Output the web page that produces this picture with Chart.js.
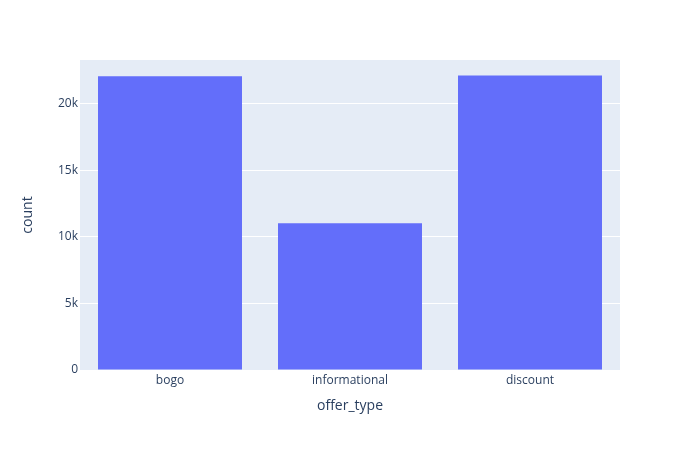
<!DOCTYPE html>
<html>
<head>
<meta charset="utf-8">
<script src="https://cdn.jsdelivr.net/npm/chart.js@4/dist/chart.umd.min.js"></script>
<style>
html,body{margin:0;padding:0;background:#fff;}
#c{display:block;}
</style>
</head>
<body>
<canvas id="c" width="700" height="450"></canvas>
<script>
const categories = ["bogo", "informational", "discount"];
const counts = [22050, 11020, 22100];
const yTickValues = [0, 5000, 10000, 15000, 20000];
const xTitle = "offer_type";
const yTitle = "count";

const plotBg = {
  id: 'plotBg',
  beforeDraw(chart) {
    const {ctx, chartArea: a} = chart;
    ctx.save();
    ctx.fillStyle = '#E5ECF6';
    ctx.fillRect(a.left, a.top, a.right - a.left, a.bottom - a.top);
    ctx.restore();
  }
};

const fontFam = '"Open Sans", verdana, arial, sans-serif';
new Chart(document.getElementById('c'), {
  type: 'bar',
  data: {
    labels: categories,
    datasets: [{
      data: counts,
      backgroundColor: '#636EFA',
      borderWidth: 0,
      barPercentage: 0.8,
      categoryPercentage: 1.0
    }]
  },
  options: {
    responsive: false,
    animation: false,
    layout: {padding: {left: 0, right: 80, top: 60, bottom: 0}},
    plugins: {legend: {display: false}, tooltip: {enabled: false}},
    scales: {
      x: {
        grid: {display: false, drawTicks: false},
        border: {display: false},
        ticks: {color: '#2a3f5f', font: {family: fontFam, size: 12}, padding: 3},
        title: {display: true, text: xTitle, color: '#2a3f5f', font: {family: fontFam, size: 14}, padding: {top: 0, bottom: 36}},
        afterFit(s) { s.height = 80; }
      },
      y: {
        min: 0,
        max: 23260,
        afterBuildTicks(s) { s.ticks = yTickValues.map(v => ({value: v})); },
        grid: {color: '#ffffff', lineWidth: 1, drawTicks: false},
        border: {display: false},
        ticks: {
          color: '#2a3f5f', font: {family: fontFam, size: 12}, padding: 2,
          callback: v => v === 0 ? '0' : (v / 1000) + 'k'
        },
        title: {display: true, text: yTitle, color: '#2a3f5f', font: {family: fontFam, size: 14}, padding: {top: 20, bottom: 0}},
        afterFit(s) { s.width = 80; }
      }
    }
  },
  plugins: [plotBg]
});
</script>
</body>
</html>
